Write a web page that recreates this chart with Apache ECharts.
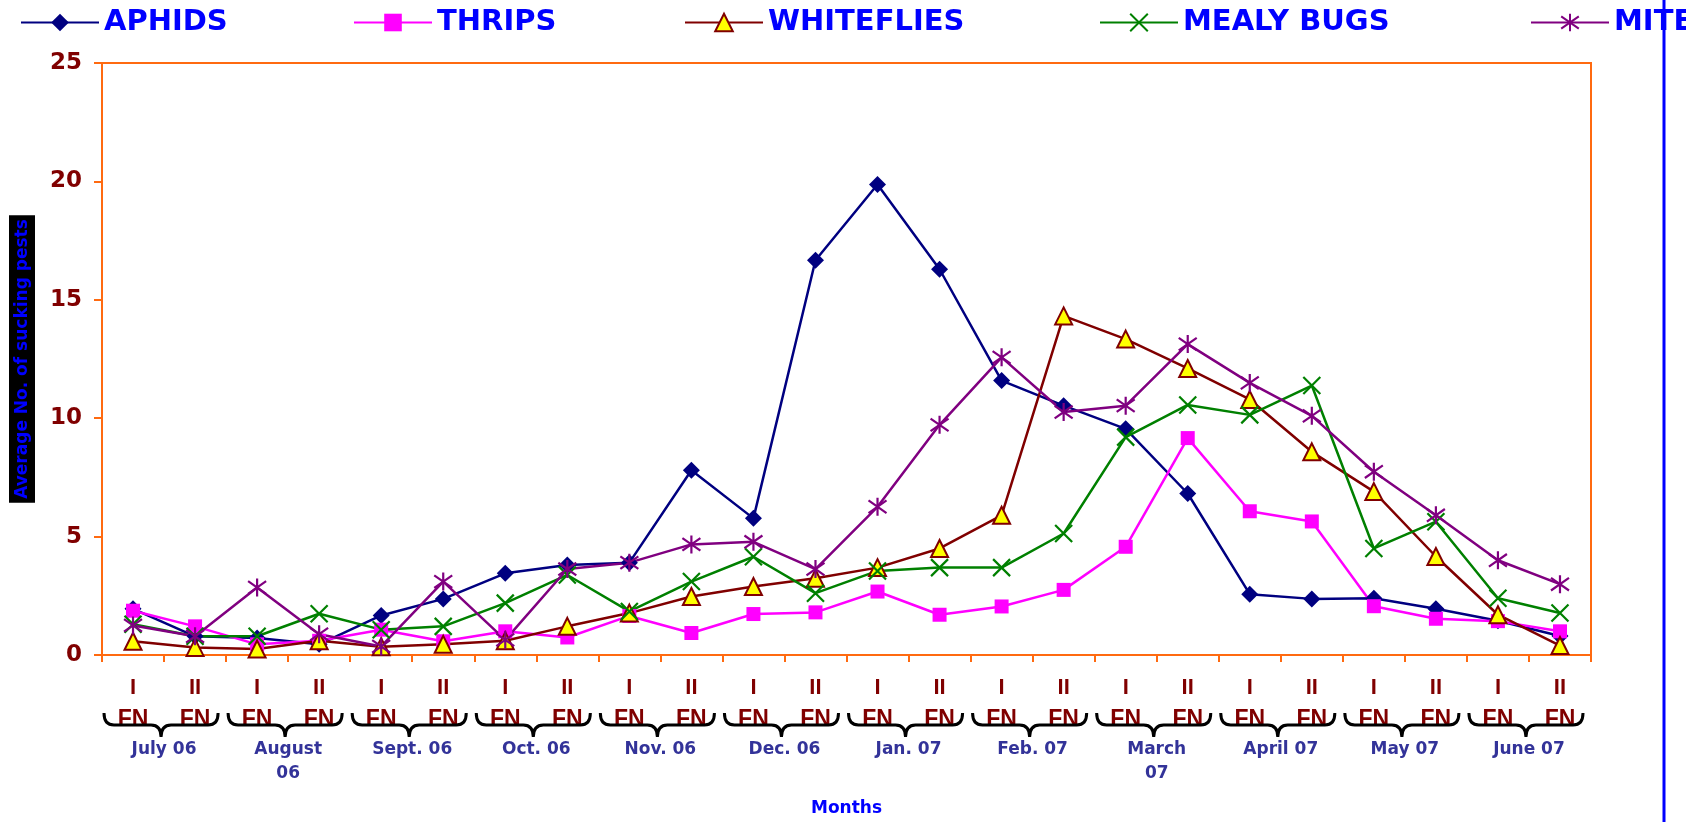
<!DOCTYPE html>
<html>
<head>
<meta charset="utf-8">
<script src="https://cdn.jsdelivr.net/npm/echarts@6/dist/echarts.min.js"></script>
<style>html,body{margin:0;padding:0;background:#fff;}#c{width:1703px;height:822px;}</style>
</head>
<body>
<div id="c"></div>
<script>
const fortnights = ['I','II','I','II','I','II','I','II','I','II','I','II','I','II','I','II','I','II','I','II','I','II','I','II'];
const fnUnit = 'FN';
const months = ['July 06','August\n06','Sept. 06','Oct. 06','Nov. 06','Dec. 06','Jan. 07','Feb. 07','March\n07','April 07','May 07','June 07'];
const yTicks = [0, 5, 10, 15, 20, 25];

const aphids     = [1.95, 0.79, 0.72, 0.45, 1.67, 2.37, 3.45, 3.8, 3.9, 7.8, 5.77, 16.67, 19.87, 16.29, 11.59, 10.53, 9.55, 6.82, 2.57, 2.37, 2.4, 1.95, 1.45, 0.8];
const thrips     = [1.87, 1.21, 0.45, 0.6, 1.07, 0.58, 1.0, 0.74, 1.65, 0.93, 1.73, 1.8, 2.68, 1.7, 2.05, 2.75, 4.57, 9.16, 6.07, 5.64, 2.06, 1.53, 1.43, 1.0];
const whiteflies = [0.58, 0.32, 0.25, 0.6, 0.35, 0.45, 0.6, 1.21, 1.77, 2.47, 2.89, 3.24, 3.69, 4.5, 5.9, 14.32, 13.34, 12.1, 10.79, 8.58, 6.9, 4.16, 1.7, 0.4];
const mealyBugs  = [1.3, 0.79, 0.79, 1.74, 1.07, 1.21, 2.19, 3.38, 1.84, 3.1, 4.15, 2.61, 3.55, 3.69, 3.69, 5.13, 9.2, 10.56, 10.14, 11.38, 4.5, 5.63, 2.4, 1.77];
const mites      = [1.25, 0.79, 2.85, 0.88, 0.36, 3.1, 0.64, 3.63, 3.9, 4.67, 4.78, 3.63, 6.26, 9.72, 12.57, 10.26, 10.53, 13.13, 11.49, 10.1, 7.74, 5.9, 4.0, 2.99];

const seriesNames = ['APHIDS', 'THRIPS', 'WHITEFLIES', 'MEALY BUGS', 'MITES'];
const seriesData = [aphids, thrips, whiteflies, mealyBugs, mites];

const ORANGE = '#FF6A10';
const styles = [
  {color:'#000080', symbol:'diamond', size:[17,17], item:{color:'#000080'}},
  {color:'#FF00FF', symbol:'rect', size:14, item:{color:'#FF00FF'}},
  {color:'#800000', symbol:'triangle', size:17, item:{color:'#FFFF00', borderColor:'#800000', borderWidth:2}},
  {color:'#008000', symbol:'path://M0,0L10,10M10,0L0,10', size:17, item:{color:'#008000', borderColor:'#008000', borderWidth:2.2}},
  {color:'#800080', symbol:'path://M5,0L5,10M0,1.5L10,8.5M10,1.5L0,8.5', size:18, item:{color:'#800080', borderColor:'#800080', borderWidth:2.2}}
];
const legendLefts = [20, 353, 684, 1099, 1530];

const chart = echarts.init(document.getElementById('c'));

const lineSeries = seriesNames.map((n, i) => ({
  name: n,
  type: 'line',
  data: seriesData[i],
  symbol: styles[i].symbol,
  symbolSize: styles[i].size,
  showAllSymbol: true,
  lineStyle: {color: styles[i].color, width: 2.5},
  itemStyle: styles[i].item,
  emphasis: {disabled: true},
  z: 3
}));

const braceSeries = {
  type: 'custom',
  silent: true,
  clip: false,
  xAxisIndex: 0,
  yAxisIndex: 0,
  data: months.map((m, i) => [2 * i, 2 * i + 1]),
  encode: {x: [0, 1]},
  renderItem: function (params, api) {
    const a = api.coord([api.value(0), 0]);
    const b = api.coord([api.value(1), 0]);
    const w = api.size([1, 0])[0];
    const x1 = a[0] - w / 2 + 2;
    const x2 = b[0] + w / 2 - 8;
    const y0 = a[1] + 58, ym = a[1] + 70, yt = a[1] + 82;
    const xc = (x1 + x2) / 2, r = 10;
    const d = `M${x1},${y0} Q${x1},${ym} ${x1 + r},${ym} L${xc - r},${ym} Q${xc},${ym} ${xc},${yt} Q${xc},${ym} ${xc + r},${ym} L${x2 - r},${ym} Q${x2},${ym} ${x2},${y0}`;
    return {
      type: 'path',
      shape: {pathData: d},
      style: {stroke: '#000', fill: null, lineWidth: 3}
    };
  },
  z: 5
};

chart.setOption({
  animation: false,
  backgroundColor: '#fff',
  grid: {left: 102, right: 112, top: 63, bottom: 165, show: true, borderColor: ORANGE, borderWidth: 2, backgroundColor: '#fff'},
  legend: seriesNames.map((n, i) => ({
    data: [n],
    left: legendLefts[i],
    top: 8,
    padding: 0,
    itemWidth: 78,
    itemHeight: 22,
    selectedMode: false,
    textStyle: {color: '#0000FF', fontFamily: 'DejaVu Sans', fontWeight: 'bold', fontSize: 29}
  })),
  xAxis: [
    {
      type: 'category',
      data: fortnights,
      boundaryGap: true,
      axisLine: {lineStyle: {color: ORANGE, width: 2}},
      axisTick: {show: true, length: 7, lineStyle: {color: ORANGE, width: 2}, alignWithLabel: false},
      axisLabel: {
        interval: 0,
        margin: 17,
        formatter: v => `{r|${v}}\n{f|${fnUnit}}`,
        rich: {
          r: {color: '#800000', fontFamily: 'Liberation Sans', fontWeight: 'bold', fontSize: 22, lineHeight: 32},
          f: {color: '#800000', fontFamily: 'Liberation Sans', fontWeight: 'bold', fontSize: 23, lineHeight: 32}
        }
      }
    },
    {
      type: 'category',
      data: months,
      position: 'bottom',
      boundaryGap: true,
      axisLine: {show: false},
      axisTick: {show: false},
      axisLabel: {
        interval: 0,
        margin: 83,
        color: '#333399',
        fontFamily: 'DejaVu Sans',
        fontWeight: 'bold',
        fontSize: 17,
        lineHeight: 24
      },
      name: 'Months',
      nameLocation: 'middle',
      nameGap: 145,
      nameTextStyle: {color: '#0000FF', fontFamily: 'DejaVu Sans', fontWeight: 'bold', fontSize: 17}
    }
  ],
  yAxis: {
    type: 'value',
    min: yTicks[0],
    max: yTicks[yTicks.length - 1],
    interval: 5,
    splitLine: {show: false},
    axisLine: {show: true, lineStyle: {color: ORANGE, width: 2}},
    axisTick: {show: true, length: 8, lineStyle: {color: ORANGE, width: 2}},
    axisLabel: {margin: 20, color: '#800000', fontFamily: 'DejaVu Sans', fontWeight: 'bold', fontSize: 23},
    name: 'Average No. of sucking pests',
    nameLocation: 'middle',
    nameGap: 67,
    nameTextStyle: {color: '#0000FF', backgroundColor: '#000', fontFamily: 'DejaVu Sans', fontWeight: 'bold', fontSize: 17, padding: [5, 4, 4, 4]}
  },
  series: lineSeries.concat([braceSeries]),
  graphic: [
    {type: 'rect', z: 100, shape: {x: 1686, y: 0, width: 17, height: 50}, style: {fill: '#fff'}},
    {type: 'line', z: 101, shape: {x1: 1664, y1: 0, x2: 1664, y2: 822}, style: {stroke: '#0000FF', lineWidth: 3}}
  ]
});
</script>
</body>
</html>
